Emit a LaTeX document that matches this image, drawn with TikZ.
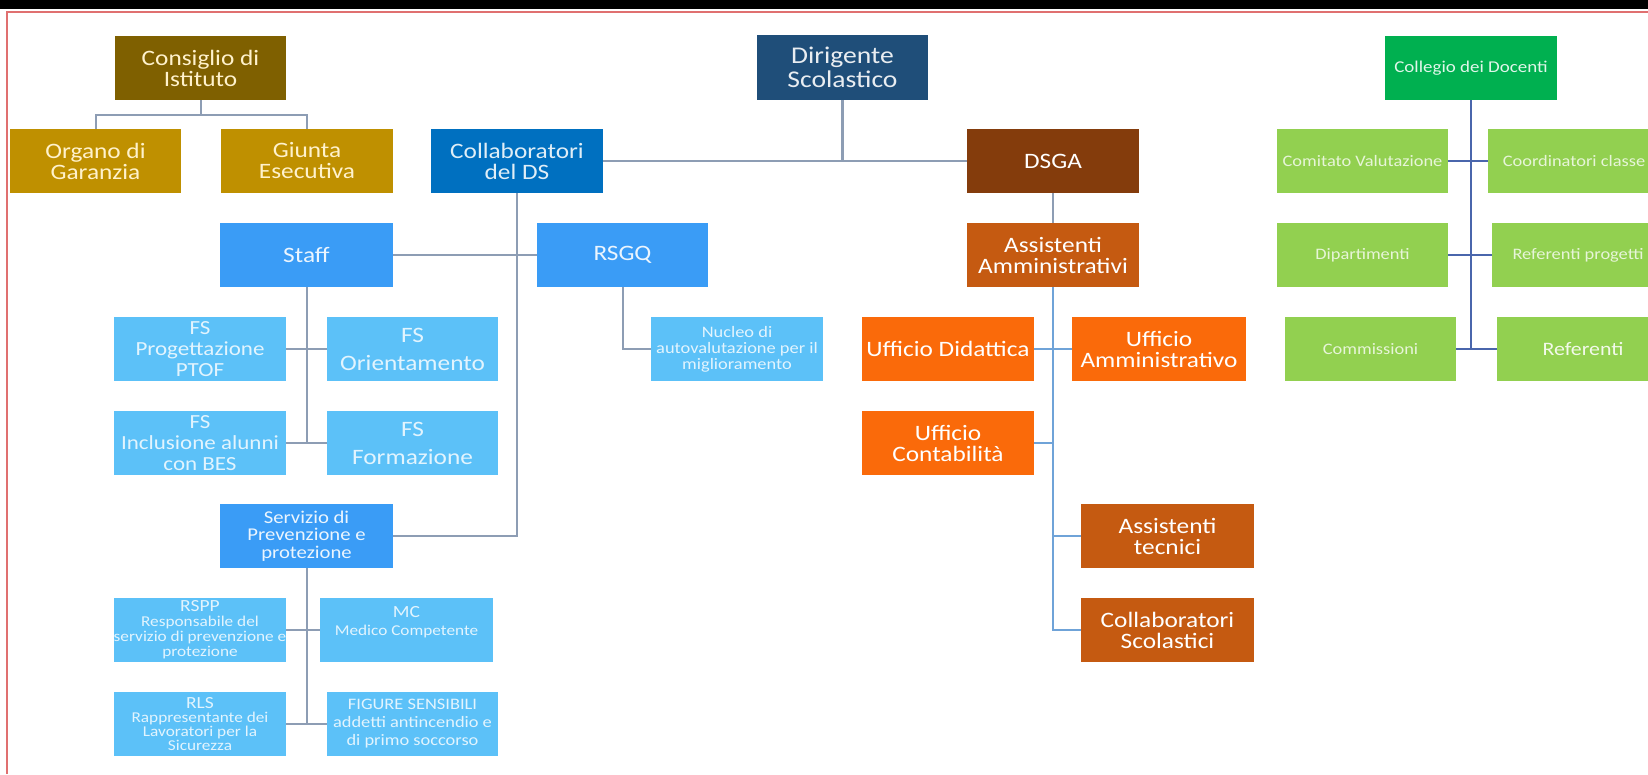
\documentclass[tikz,border=0pt]{standalone}
\usepackage{fontspec}
\setmainfont{Carlito}[FakeStretch=1.15]
\definecolor{cCons}{HTML}{7F6000}
\definecolor{cGold}{HTML}{BF9000}
\definecolor{cColl}{HTML}{0070C0}
\definecolor{cDir}{HTML}{1F4E79}
\definecolor{cDsga}{HTML}{843C0C}
\definecolor{cRust}{HTML}{C55A11}
\definecolor{cOrng}{HTML}{FA6A0A}
\definecolor{cMid}{HTML}{3A9CF6}
\definecolor{cLight}{HTML}{5CC1F8}
\definecolor{cDark}{HTML}{00B050}
\definecolor{cGreen}{HTML}{92D050}
\definecolor{cLine}{HTML}{8D9DB4}
\definecolor{cLineB}{HTML}{6FA3D8}
\definecolor{cLineD}{HTML}{4A66AC}
\definecolor{cFrame}{HTML}{E07070}
\definecolor{cCream}{HTML}{FFF2CC}
\colorlet{tLight}{white!82!cLight}
\colorlet{tGreen}{white!78!cGreen}
\tikzset{
  box/.style={fill=#1, minimum width=172pt, minimum height=64pt, inner sep=0pt,
    align=center, text=white},
  big/.style={font=\fontsize{22}{21}\selectfont},
  conn/.style={draw=cLine, line width=2pt},
  connB/.style={draw=cLineB, line width=2pt},
  connD/.style={draw=cLineD, line width=2.5pt},
}
\begin{document}
\begin{tikzpicture}[x=1pt,y=-1pt]
\useasboundingbox (0,0) rectangle (1648,774);
\clip (0,0) rectangle (1648,774);
\fill[white] (0,0) rectangle (1648,774);
\fill[black] (0,0) rectangle (1648,9);
\draw[cFrame, line width=1.5pt] (7,774) -- (7,12) -- (1648,12);

% ---- nodes
\node[box=cCons, big, text=cCream, minimum width=171pt] (cons) at (200.5,68) {Consiglio di\\Istituto};
\node[box=cGold, big, text=cCream, minimum width=171pt] (org) at (95.5,161) {Organo di\\Garanzia};
\node[box=cGold, big, text=cCream] (giu) at (307,161) {Giunta\\Esecutiva};
\node[box=cColl, big, text=white!88!cColl] (coll) at (517,161) {Collaboratori\\del DS};
\node[box=cDir, font=\fontsize{24}{24}\selectfont, text=white!90!cDir, minimum width=171pt, minimum height=65pt] (dir) at (842.5,67.5) {Dirigente\\Scolastico};
\node[box=cDsga, big] (dsga) at (1053,161) {DSGA};
\node[box=cDark, font=\fontsize{16.5}{18}\selectfont, text=white!88!cDark] (colleg) at (1471,68) {Collegio dei Docenti};

\node[box=cMid, big, text=white!90!cMid, minimum width=173pt] (staff) at (306.5,255) {Staff};
\node[box=cMid, big, text=white!90!cMid, minimum width=171pt] (rsgq) at (622.5,255) {RSGQ};
\node[box=cRust, big] (assamm) at (1053,255) {Assistenti\\Amministrativi};

\node[box=cLight, text=tLight, font=\fontsize{20}{21}\selectfont] (ptof) at (200,349) {FS\\Progettazione\\PTOF};
\node[box=cLight, text=tLight, font=\fontsize{22}{28}\selectfont, minimum width=171pt] (orient) at (412.5,349) {FS\\Orientamento};
\node[box=cLight, text=tLight, font=\fontsize{20}{21}\selectfont] (incl) at (200,443) {FS\\Inclusione alunni\\con BES};
\node[box=cLight, text=tLight, font=\fontsize{22}{28}\selectfont, minimum width=171pt] (form) at (412.5,443) {FS\\Formazione};
\node[box=cLight, text=tLight, font=\fontsize{16}{16}\selectfont] (nucleo) at (737,349) {Nucleo di\\autovalutazione per il\\miglioramento};

\node[box=cOrng, big] (uffdid) at (948,349) {Ufficio Didattica};
\node[box=cOrng, big, minimum width=174pt] (uffamm) at (1159,349) {Ufficio\\Amministrativo};
\node[box=cOrng, big] (uffcont) at (948,443) {Ufficio\\Contabilità};

\node[box=cMid, text=white!90!cMid, font=\fontsize{18}{17.5}\selectfont, minimum width=173pt] (serv) at (306.5,536) {Servizio di\\Prevenzione e\\protezione};
\node[box=cRust, big, minimum width=173pt] (asstec) at (1167.5,536) {Assistenti\\tecnici};
\node[box=cRust, big, minimum width=173pt] (collscol) at (1167.5,630) {Collaboratori\\Scolastici};

\node[box=cLight, text=tLight, font=\fontsize{15}{15}\selectfont] (rspp) at (200,630) {{\fontsize{17}{18}\selectfont RSPP}\\Responsabile del\\servizio di prevenzione e\\protezione};
\node[box=cLight, text=tLight, font=\fontsize{15}{18}\selectfont, minimum width=173pt] (mc) at (406.5,630) {{\fontsize{17}{18}\selectfont MC}\\Medico Competente\\~};
\node[box=cLight, text=tLight, font=\fontsize{15}{14}\selectfont] (rls) at (200,724) {{\fontsize{17}{18}\selectfont RLS}\\Rappresentante dei\\Lavoratori per la\\Sicurezza};
\node[box=cLight, text=tLight, font=\fontsize{16}{18}\selectfont, minimum width=171pt] (fig) at (412.5,724) {FIGURE SENSIBILI\\addetti antincendio e\\di primo soccorso};

\node[box=cGreen, text=tGreen, font=\fontsize{16}{18}\selectfont, minimum width=171pt] (comit) at (1362.5,161) {Comitato Valutazione};
\node[box=cGreen, text=tGreen, font=\fontsize{16}{18}\selectfont] (coord) at (1574,161) {Coordinatori classe};
\node[box=cGreen, text=tGreen, font=\fontsize{16}{18}\selectfont, minimum width=171pt] (dip) at (1362.5,255) {Dipartimenti};
\node[box=cGreen, text=tGreen, font=\fontsize{16}{18}\selectfont] (refprog) at (1578,255) {Referenti progetti};
\node[box=cGreen, text=tGreen, font=\fontsize{16}{18}\selectfont, minimum width=171pt] (comm) at (1370.5,349) {Commissioni};
\node[box=cGreen, text=white!88!cGreen, font=\fontsize{19}{20}\selectfont] (ref) at (1583,349) {Referenti};

% ---- connectors
\coordinate (cj) at (200.5,115);
\draw[conn] (cons.south) -- (cj);
\draw[conn] (org.north) |- (cj) -| (giu.north);

\draw[conn, line width=2.5pt] (dir.south) -- (dir.south |- coll.east);
\draw[conn] (coll.east) -- (dsga.west);

\draw[conn, line width=2.5pt] (coll.south) |- (serv.east);
\draw[conn] (staff.east) -- (rsgq.west);

\draw[conn] (staff.south) -- (staff.south |- incl.east);
\draw[conn] (ptof.east) -- (orient.west);
\draw[conn] (incl.east) -- (form.west);

\draw[conn] (rsgq.south) |- (nucleo.west);

\draw[conn] (dsga.south) -- (assamm.north);
\draw[connB] (assamm.south) |- (collscol.west);
\draw[connB] (uffdid.east) -- (uffamm.west);
\draw[connB] (uffcont.east) -- (uffcont.east -| assamm.south);
\draw[connB] (asstec.west) -- (asstec.west -| assamm.south);

\draw[conn] (serv.south) -- (serv.south |- rls.east);
\draw[conn] (rspp.east) -- (mc.west);
\draw[conn] (rls.east) -- (fig.west);

\draw[connD] (colleg.south) -- (colleg.south |- comm.east);
\draw[connD] (comit.east) -- (coord.west);
\draw[connD] (dip.east) -- (refprog.west);
\draw[connD] (comm.east) -- (ref.west);
\end{tikzpicture}
\end{document}
